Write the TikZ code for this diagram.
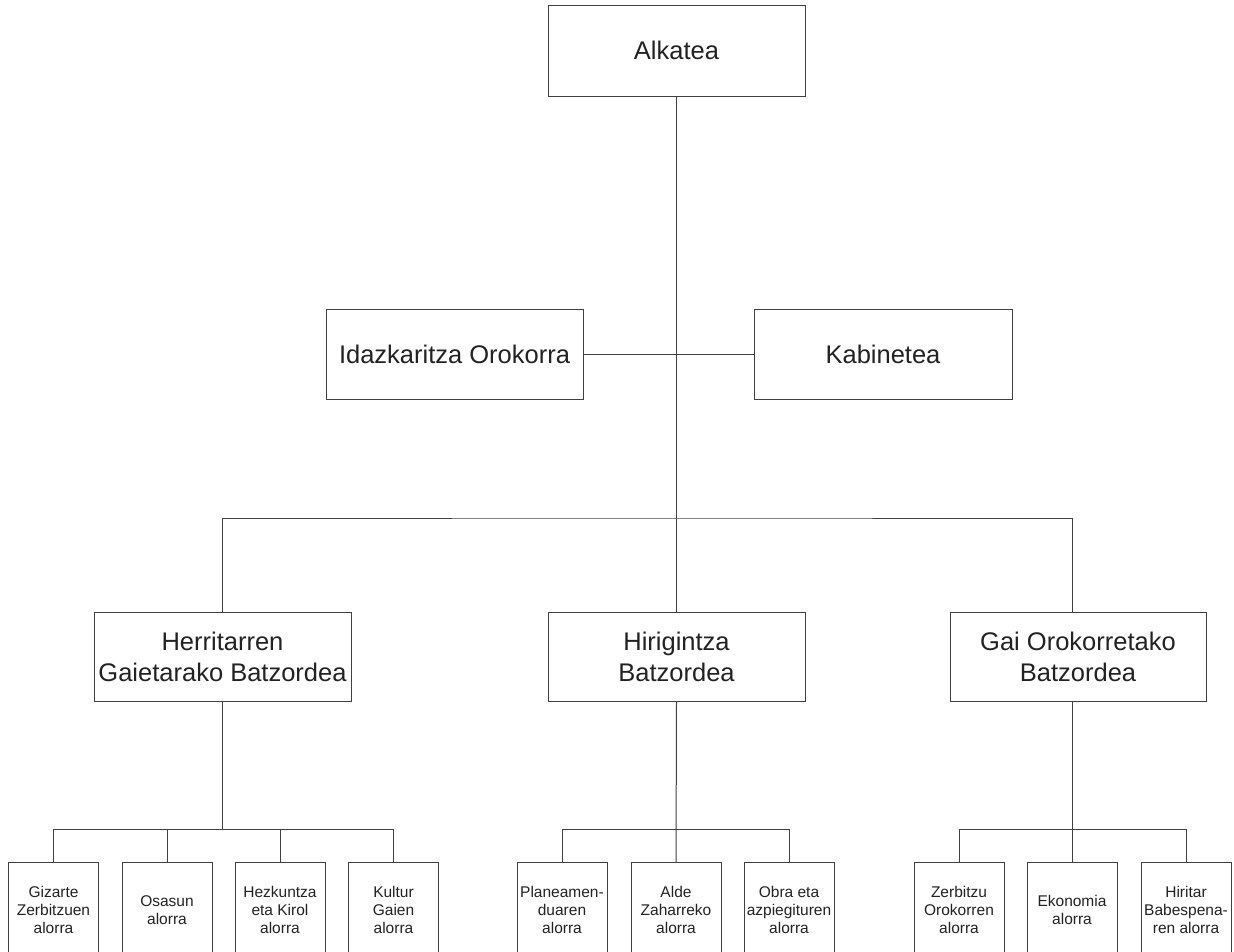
\documentclass[tikz,border=0pt]{standalone}
\usepackage{fontspec}
\setmainfont{Liberation Sans}
\definecolor{linec}{HTML}{404040}
\definecolor{textc}{HTML}{222222}
\newcommand{\cellbox}[1]{\raisebox{6pt}{\begin{tabular}{@{}c@{}}#1\end{tabular}}}
\begin{document}
\begin{tikzpicture}[x=1pt,y=-1pt,
  line/.style={draw=linec,line width=1pt},
  bigbox/.style={draw=linec,line width=1pt,text=textc,align=center,
    font=\fontsize{25.5}{30.6}\selectfont,minimum width=257pt,minimum height=90pt,inner sep=2pt},
  smallbox/.style={draw=linec,line width=1pt,text=textc,anchor=north,
    font=\fontsize{15.5}{18}\selectfont,minimum width=90pt,minimum height=98pt,inner sep=0.5pt}]
\useasboundingbox (0,0) rectangle (1234,951);
% level 1
\node[bigbox,minimum height=91pt] (alk) at (676.5,50.5) {Alkatea};
% level 2
\node[bigbox] (idaz) at (454.5,354) {Idazkaritza Orokorra};
\node[bigbox,minimum width=258pt] (kab) at (883,354) {Kabinetea};
% level 3
\node[bigbox,minimum height=89pt] (her) at (222.5,657) {Herritarren\\Gaietarako Batzordea};
\node[bigbox,minimum height=89pt] (hir) at (676.5,657) {Hirigintza\\Batzordea};
\node[bigbox,minimum height=89pt,minimum width=256pt] (gai) at (1078,657) {Gai Orokorretako\\Batzordea};
% level 4
\node[smallbox] (a1) at (53.5,862) {\cellbox{Gizarte\\Zerbitzuen\\alorra}};
\node[smallbox] (a2) at (167,862) {\cellbox{Osasun\\alorra}};
\node[smallbox] (a3) at (280,862) {\cellbox{Hezkuntza\\eta Kirol\\alorra}};
\node[smallbox] (a4) at (393.5,862) {\cellbox{Kultur\\Gaien\\alorra}};
\node[smallbox] (b1) at (562,862) {\cellbox{Planeamen-\\duaren\\alorra}};
\node[smallbox] (b2) at (676,862) {\cellbox{Alde\\Zaharreko\\alorra}};
\node[smallbox] (b3) at (789,862) {\cellbox{Obra eta\\azpiegituren\\alorra}};
\node[smallbox] (c1) at (959,862) {\cellbox{Zerbitzu\\Orokorren\\alorra}};
\node[smallbox] (c2) at (1072,862) {\cellbox{Ekonomia\\alorra}};
\node[smallbox] (c3) at (1186,862) {\cellbox{Hiritar\\Babespena-\\ren alorra}};
% connectors
\coordinate (hub) at (676.5,518);
\draw[line] (alk.south) -- (hir.north);
\draw[line] (idaz.east) -- (kab.west);
\draw[line] (her.north) |- (hub) -| (gai.north -| c2.north);
% group 1
\draw[line] (her.south) -- ++(0,127);
\draw[line] (a1.north) -- ++(0,-33) -| (a4.north);
\draw[line] (a2.north) -- ++(0,-33);
\draw[line] (a3.north) -- ++(0,-33);
% group 2
\draw[line] (hir.south) -- (b2.north);
\draw[line] (b1.north) -- ++(0,-33) -| (b3.north);
% group 3
\draw[line] (gai.south -| c2.north) -- (c2.north);
\draw[line] (c1.north) -- ++(0,-33) -| (c3.north);
\end{tikzpicture}
\end{document}
